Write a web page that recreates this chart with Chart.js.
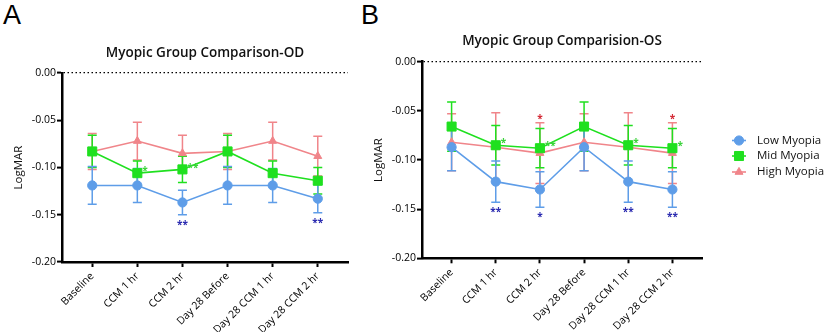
<!DOCTYPE html>
<html>
<head>
<meta charset="utf-8">
<script src="https://cdn.jsdelivr.net/npm/chart.js@4/dist/chart.umd.min.js"></script>
<style>
  html, body { margin: 0; padding: 0; background: #fff; }
  body { width: 825px; height: 332px; position: relative; overflow: hidden; }
  canvas { position: absolute; top: 0; }
  #cA { left: 0; }
  #cB { left: 360px; }
  .letter { position: absolute; font-family: "Liberation Sans", Arial, sans-serif; font-size: 27px; color: #000; line-height: 1; }
</style>
</head>
<body>
<div class="letter" style="left:3px; top:2px;">A</div>
<div class="letter" style="left:361px; top:2px;">B</div>
<canvas id="cA" width="360" height="332"></canvas>
<canvas id="cB" width="465" height="332"></canvas>
<script>
// ---------- data ----------
const categories = ["Baseline", "CCM 1 hr", "CCM 2 hr", "Day 28 Before", "Day 28 CCM 1 hr", "Day 28 CCM 2 hr"];
const seriesNames = ["Low Myopia", "Mid Myopia", "High Myopia"];
const yTicks = [0, -0.05, -0.10, -0.15, -0.20];

// OD (panel A) means and error (SD)
const lowOD     = [-0.119, -0.119, -0.137, -0.119, -0.119, -0.133];
const lowOD_err = [0.020, 0.018, 0.013, 0.020, 0.018, 0.015];
const midOD     = [-0.083, -0.106, -0.102, -0.083, -0.106, -0.114];
const midOD_err = [0.017, 0.013, 0.014, 0.017, 0.013, 0.014];
const highOD     = [-0.083, -0.072, -0.085, -0.083, -0.072, -0.088];
const highOD_err = [0.019, 0.020, 0.019, 0.019, 0.020, 0.021];

// OS (panel B)
const lowOS     = [-0.087, -0.122, -0.130, -0.087, -0.122, -0.130];
const lowOS_err = [0.024, 0.021, 0.018, 0.024, 0.021, 0.018];
const midOS     = [-0.066, -0.085, -0.088, -0.066, -0.085, -0.088];
const midOS_err = [0.025, 0.020, 0.020, 0.025, 0.020, 0.020];
const highOS     = [-0.082, -0.087, -0.093, -0.082, -0.087, -0.093];
const highOS_err = [0.029, 0.035, 0.031, 0.029, 0.035, 0.031];

// significance marks
const lowOD_sig  = ["", "", "**", "", "", "**"];
const midOD_sig  = ["", "*", "**", "", "", ""];
const highOD_sig = ["", "", "", "", "", ""];
const lowOS_sig  = ["", "**", "*", "", "**", "**"];
const midOS_sig  = ["", "*", "**", "", "*", "*"];
const highOS_sig = ["", "", "*", "", "", "*"];

// ---------- styles ----------
const BLUE = '#5e9de8', GREEN = '#1fe01f', RED = '#f0858a';
const FONT = "'Open Sans', 'DejaVu Sans', sans-serif";

function pts(arr) { return arr.map((v, i) => ({ x: i, y: v })); }

function makeDatasets(low, lowE, lowS, mid, midE, midS, high, highE, highS) {
  return [
    { label: seriesNames[0], data: pts(low), err: lowE, sig: lowS, sigPos: 'below', sigColor: '#2b2bb0',
      borderColor: BLUE, backgroundColor: BLUE, pointStyle: 'circle', pointRadius: 4.6, borderWidth: 1.6, pointBorderWidth: 1 },
    { label: seriesNames[1], data: pts(mid), err: midE, sig: midS, sigPos: 'right', sigColor: '#3bd43b',
      borderColor: GREEN, backgroundColor: GREEN, pointStyle: 'rect', pointRadius: 6.4, borderWidth: 1.6, pointBorderWidth: 1 },
    { label: seriesNames[2], data: pts(high), err: highE, sig: highS, sigPos: 'above', sigColor: '#d42a36',
      borderColor: RED, backgroundColor: RED, pointStyle: 'triangle', pointRadius: 4.6, borderWidth: 1.6, pointBorderWidth: 1 }
  ];
}

const errorBars = {
  id: 'errorBars',
  beforeDatasetsDraw(chart) {
    const { ctx, scales: { x, y } } = chart;
    for (let d = chart.data.datasets.length - 1; d >= 0; d--) {
      const ds = chart.data.datasets[d];
      ctx.save();
      ctx.strokeStyle = ds.borderColor;
      ctx.lineWidth = 1.5;
      ds.data.forEach((p, i) => {
        const px = x.getPixelForValue(p.x);
        const t = y.getPixelForValue(p.y + ds.err[i]);
        const b = y.getPixelForValue(p.y - ds.err[i]);
        ctx.beginPath();
        ctx.moveTo(px, t); ctx.lineTo(px, b);
        ctx.moveTo(px - 4.5, t); ctx.lineTo(px + 4.5, t);
        ctx.moveTo(px - 4.5, b); ctx.lineTo(px + 4.5, b);
        ctx.stroke();
      });
      ctx.restore();
    }
  },
  afterDatasetsDraw(chart) {
    const { ctx, scales: { x, y } } = chart;
    const fs = 10;
    chart.data.datasets.forEach(ds => {
      ctx.save();
      ctx.fillStyle = ds.sigColor;
      ctx.font = 'bold ' + fs + 'px ' + FONT;
      ctx.textBaseline = 'alphabetic';
      ds.data.forEach((p, i) => {
        const s = ds.sig[i];
        if (!s) return;
        const px = x.getPixelForValue(p.x);
        let cy, cx, align;
        if (ds.sigPos === 'below') { cy = y.getPixelForValue(p.y - ds.err[i]) + 7; cx = px; align = 'center'; }
        else if (ds.sigPos === 'above') { cy = y.getPixelForValue(p.y + ds.err[i]) - 7; cx = px; align = 'center'; }
        else { cy = y.getPixelForValue(p.y) - 5; cx = px + 5; align = 'left'; }
        ctx.textAlign = align;
        ctx.fillText(s, cx, cy + 0.62 * fs);
      });
      ctx.restore();
    });
  }
};

const legendPlugin = {
  id: 'sideLegend',
  afterDraw(chart, args, opts) {
    if (!opts || !opts.show) return;
    const { ctx, chartArea } = chart;
    const x0 = chartArea.right + 37;
    const ys = [140.5, 156, 172];
    chart.data.datasets.forEach((ds, i) => {
      const yy = ys[i];
      ctx.save();
      ctx.strokeStyle = ds.borderColor;
      ctx.lineWidth = 1.6;
      ctx.beginPath(); ctx.moveTo(x0 - 7, yy); ctx.lineTo(x0 + 7, yy); ctx.stroke();
      ctx.fillStyle = ds.borderColor; ctx.lineWidth = 1;
      ctx.beginPath();
      if (ds.pointStyle === 'circle') ctx.arc(x0, yy, ds.pointRadius, 0, Math.PI * 2);
      else if (ds.pointStyle === 'rect') { const s = ds.pointRadius * Math.SQRT1_2; ctx.rect(x0 - s, yy - s, 2 * s, 2 * s); }
      else { const r = ds.pointRadius; for (let k = 0; k < 3; k++) { const a = -Math.PI / 2 + k * 2 * Math.PI / 3; const fx = x0 + r * Math.cos(a), fy = yy + r * Math.sin(a); k ? ctx.lineTo(fx, fy) : ctx.moveTo(fx, fy); } ctx.closePath(); }
      ctx.fill(); ctx.stroke();
      ctx.fillStyle = '#111';
      ctx.font = '11.5px ' + FONT;
      ctx.textAlign = 'left';
      ctx.textBaseline = 'middle';
      ctx.fillText(ds.label, x0 + 18, yy);
      ctx.restore();
    });
  }
};

function fmt(v) { return Math.abs(v) < 1e-9 ? '0.00' : v.toFixed(2); }

function makeChart(id, title, datasets, cfg) {
  return new Chart(document.getElementById(id), {
    type: 'line',
    data: { datasets },
    plugins: [errorBars, legendPlugin],
    options: {
      responsive: false,
      animation: false,
      devicePixelRatio: 1,
      layout: { padding: { left: 0, right: cfg.padRight, top: 0, bottom: 0 } },
      plugins: {
        legend: { display: false },
        tooltip: { enabled: false },
        title: {
          display: true, text: title, fullSize: false, color: '#111',
          font: { family: FONT, size: 13.5, weight: '600', lineHeight: 1.2 },
          padding: { top: cfg.titleTop, bottom: cfg.titleBottom }
        },
        sideLegend: { show: cfg.legend }
      },
      scales: {
        x: {
          type: 'linear', min: -0.67, max: 5.67,
          afterBuildTicks: s => { s.ticks = categories.map((c, i) => ({ value: i })); },
          afterFit: s => { s.height = cfg.xHeight; },
          ticks: {
            autoSkip: false, minRotation: 45, maxRotation: 45, padding: 3,
            color: '#000', font: { family: FONT, size: 10.5 },
            callback: v => categories[Math.round(v)]
          },
          grid: { drawOnChartArea: false, tickColor: '#000', tickLength: 5, tickWidth: 2 },
          border: { display: true, color: '#000', width: 2.5 }
        },
        y: {
          min: -0.2, max: 0,
          afterBuildTicks: s => { s.ticks = yTicks.map(v => ({ value: v })); },
          afterFit: s => { s.width = 62; },
          ticks: { color: '#000', font: { family: FONT, size: 10.5 }, padding: 1, callback: v => fmt(v) },
          grid: {
            color: c => (c.tick && Math.abs(c.tick.value) < 1e-9) ? '#000' : 'rgba(0,0,0,0)',
            lineWidth: 1.2, tickColor: '#000', tickLength: 5, tickWidth: 2
          },
          border: { display: true, color: '#000', width: 2.5, dash: [1.5, 2.5] },
          title: { display: true, text: 'LogMAR', color: '#111', font: { family: FONT, size: 11.5 }, padding: { top: 12, bottom: 0 } }
        }
      }
    }
  });
}

makeChart('cA', 'Myopic Group Comparison-OD',
  makeDatasets(lowOD, lowOD_err, lowOD_sig, midOD, midOD_err, midOD_sig, highOD, highOD_err, highOD_sig),
  { padRight: 12, titleTop: 45.4, titleBottom: 11.4, xHeight: 70, legend: false });

makeChart('cB', 'Myopic Group Comparision-OS',
  makeDatasets(lowOS, lowOS_err, lowOS_sig, midOS, midOS_err, midOS_sig, highOS, highOS_err, highOS_sig),
  { padRight: 123, titleTop: 33.4, titleBottom: 12.1, xHeight: 73.7, legend: true });
</script>
</body>
</html>
